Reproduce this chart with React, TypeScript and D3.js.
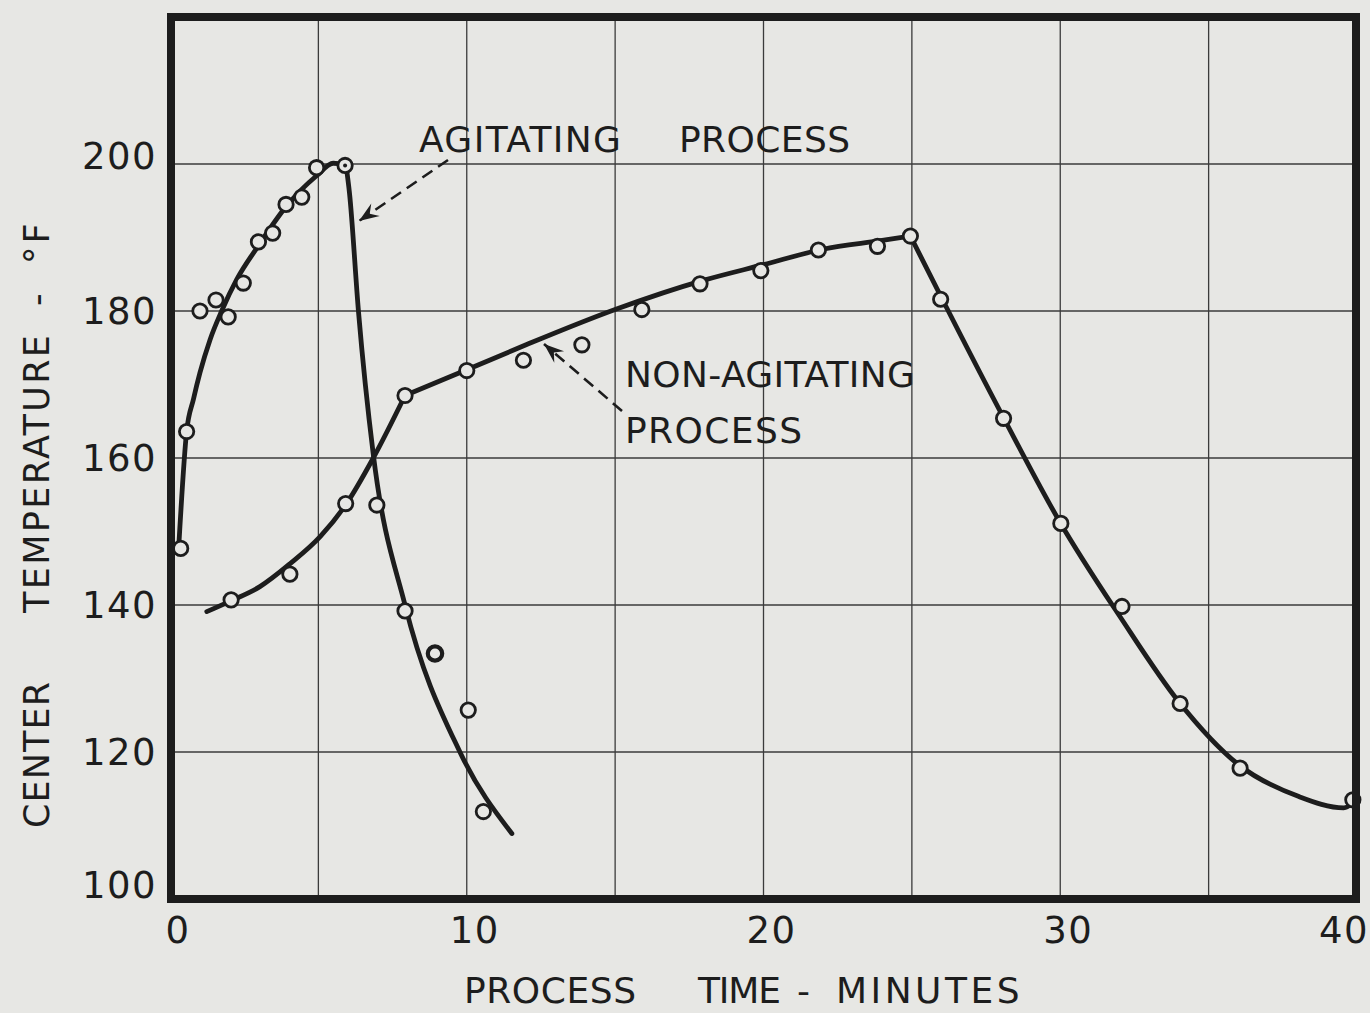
import * as d3 from 'd3';
import { useEffect } from 'react';

// axis ticks
const timeTicks = [0, 10, 20, 30, 40];
const timeGrid = [5, 10, 15, 20, 25, 30, 35];
const tempTicks = [100, 120, 140, 160, 180, 200];
const tempGrid = [120, 140, 160, 180, 200];

// measured points - agitating process
const agitTime = [0.36, 0.56, 1.01, 1.55, 1.96, 2.47, 2.98, 3.46, 3.91, 4.44, 4.94, 5.9, 6.97, 7.92, 8.93, 10.05, 10.56];
const agitTemp = [147.7, 163.6, 180.0, 181.5, 179.2, 183.8, 189.4, 190.6, 194.5, 195.5, 199.5, 199.8, 153.6, 139.2, 133.4, 125.7, 111.9];

// measured points - non-agitating process
const nonAgitTime = [2.06, 4.04, 5.92, 7.92, 10.0, 11.91, 13.88, 15.9, 17.86, 19.91, 21.85, 23.84, 24.95, 25.97, 28.09, 30.02, 32.08, 34.04, 36.06, 39.86];
const nonAgitTemp = [140.7, 144.2, 153.8, 168.5, 171.9, 173.3, 175.4, 180.2, 183.7, 185.5, 188.3, 188.8, 190.2, 181.6, 165.4, 151.1, 139.8, 126.6, 117.8, 113.5];

// faired curves
const agitRise: [number, number][] = [
  [0.3, 148.3], [0.56, 163.6], [0.79, 168], [1.01, 171.6], [1.35, 176.1], [1.74, 180], [2.25, 184.3],
  [2.98, 188.9], [3.93, 194.3], [4.94, 198.4], [5.5, 200.1], [5.93, 199.9],
];
const agitFall: [number, number][] = [
  [5.93, 199.9], [6.05, 196], [6.35, 180], [6.85, 160.5], [7.92, 140], [9.77, 120], [11.52, 108.9],
];
const nonAgitHeat: [number, number][] = [
  [1.24, 139.1], [2.07, 140.6], [3.03, 142.5], [4.04, 145.6], [5.06, 149.3], [5.95, 153.8],
  [6.85, 160], [7.92, 168.5],
];
const nonAgitHold: [number, number][] = [
  [7.92, 168.5], [10, 172], [12, 175.4], [15, 180.2], [18, 184.2], [20, 186.3], [22, 188.4],
  [24, 189.6], [24.95, 190.2],
];
const nonAgitCool: [number, number][] = [
  [24.95, 190.2], [26, 181.8], [28.1, 165.4], [30, 151.2], [32, 138.5], [34, 126.8],
  [36, 118.3], [38, 114], [39.55, 112.4], [39.9, 113.2],
];

const W = 1370;
const H = 1013;
const PAPER = '#e7e7e4';
const INK = '#1d1d1d';
const FONT = '"DejaVu Sans", Verdana, sans-serif';

export default function App() {
  useEffect(() => {
    document.body.style.margin = '0';
    document.body.style.background = PAPER;
  }, []);

  const x = d3.scaleLinear().domain([0, 40]).range([170, 1357]);
  const y = d3.scaleLinear().domain([100, 220]).range([899, 17]);

  const line = d3.line<[number, number]>()
    .x(d => x(d[0]))
    .y(d => y(d[1]))
    .curve(d3.curveMonotoneX);

  const curves = [agitRise, agitFall, nonAgitHeat, nonAgitHold, nonAgitCool];

  const agitPts = agitTime.map((t, i) => [t, agitTemp[i]]);
  const nonAgitPts = nonAgitTime.map((t, i) => [t, nonAgitTemp[i]]);

  return (
    <svg width={W} height={H} style={{ position: 'absolute', left: 0, top: 0, background: PAPER }} fontFamily={FONT}>
      <defs>
        <marker id="arrowHead" viewBox="-22 -9 24 18" refX={0} refY={0} markerWidth={24} markerHeight={18}
          markerUnits="userSpaceOnUse" orient="auto">
          <path d="M0,0 L-20,-7.5 L-13,0 L-20,7.5 Z" fill={INK} />
        </marker>
      </defs>
      <rect width={W} height={H} fill={PAPER} />

      {/* grid */}
      <g stroke="#3b3b3b" strokeWidth={1.3}>
        {timeGrid.map(t => (
          <line key={'v' + t} x1={x(t)} x2={x(t)} y1={y(220)} y2={y(100)} />
        ))}
        {tempGrid.map(v => (
          <line key={'h' + v} x1={x(0)} x2={x(40)} y1={y(v)} y2={y(v)} />
        ))}
      </g>

      {/* curves */}
      <g fill="none" stroke={INK} strokeWidth={4.8} strokeLinecap="round" strokeLinejoin="round">
        {curves.map((c, i) => <path key={i} d={line(c) || ''} />)}
      </g>

      {/* measured points */}
      <g fill={PAPER} stroke={INK} strokeWidth={2.8}>
        {agitPts.map((p, i) => <circle key={'a' + i} cx={x(p[0])} cy={y(p[1])} r={7.2} />)}
        {nonAgitPts.map((p, i) => <circle key={'n' + i} cx={x(p[0])} cy={y(p[1])} r={7.2} />)}
      </g>
      <circle cx={x(agitTime[11])} cy={y(agitTemp[11])} r={2} fill={INK} />
      <circle cx={x(agitTime[14])} cy={y(agitTemp[14])} r={7.2} fill="none" stroke={INK} strokeWidth={4.2} />

      {/* frame */}
      <rect x={x(0) + 1} y={y(220)} width={x(40) - x(0) - 2} height={y(100) - y(220)}
        fill="none" stroke={INK} strokeWidth={8} strokeLinejoin="miter" />

      {/* annotations */}
      <g stroke={INK} strokeWidth={2.6} strokeDasharray="12 7" fill="none">
        <line x1={448} y1={160} x2={359} y2={221} markerEnd="url(#arrowHead)" />
        <line x1={622} y1={411} x2={544} y2={344} markerEnd="url(#arrowHead)" />
      </g>
      <g fill={INK} fontSize={36}>
        <text x={419} y={152} textLength={202} lengthAdjust="spacing">AGITATING</text>
        <text x={679} y={152} textLength={171} lengthAdjust="spacing">PROCESS</text>
        <text x={625} y={387} textLength={290} lengthAdjust="spacing">NON-AGITATING</text>
        <text x={625} y={443} textLength={177} lengthAdjust="spacing">PROCESS</text>
      </g>

      {/* tick labels */}
      <g fill={INK} fontSize={37} letterSpacing={1.5}>
        {tempTicks.map(v => (
          <text key={'yt' + v} x={157} y={y(v) + (v === 100 ? -14 : v === 200 ? -8 : 0)}
            textAnchor="end" dominantBaseline="central">{v}</text>
        ))}
        {timeTicks.map((t, i) => (
          <text key={'xt' + t} x={x(t) + (i === timeTicks.length - 1 ? -13 : 8)} y={943}
            textAnchor="middle">{t}</text>
        ))}
      </g>

      {/* axis titles */}
      <g fill={INK} fontSize={36}>
        <text x={464} y={1003} textLength={172} lengthAdjust="spacing">PROCESS</text>
        <text x={698} y={1003} textLength={83} lengthAdjust="spacing">TIME</text>
        <text x={797} y={1003}>-</text>
        <text x={836} y={1003} letterSpacing={3.5}>MINUTES</text>
      </g>
      <g fill={INK} fontSize={35}>
        <text transform="translate(49,828) rotate(-90)" textLength={146} lengthAdjust="spacing">CENTER</text>
        <text transform="translate(49,613) rotate(-90)" textLength={278} lengthAdjust="spacing">TEMPERATURE</text>
        <text transform="translate(49,306) rotate(-90)">-</text>
        <text transform="translate(49,264) rotate(-90)" letterSpacing={3}>°F</text>
      </g>
    </svg>
  );
}
